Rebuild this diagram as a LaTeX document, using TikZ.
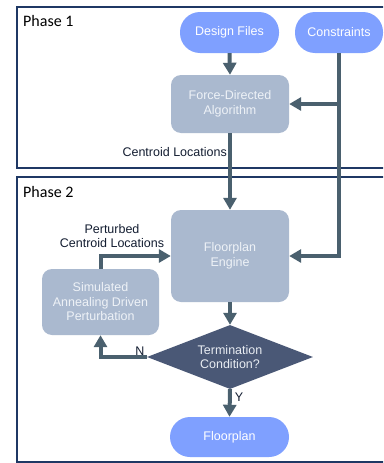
\documentclass[tikz,border=0pt]{standalone}
\usepackage{fontspec}
\setmainfont{Liberation Sans}
\newfontfamily\calibri{Carlito}
\usetikzlibrary{arrows.meta,shapes.geometric}
\definecolor{pillblue}{RGB}{127,160,255}
\definecolor{procgray}{RGB}{170,185,207}
\definecolor{decdark}{RGB}{74,88,118}
\definecolor{arrowc}{RGB}{74,96,110}
\definecolor{framec}{RGB}{31,56,100}
\definecolor{labc}{RGB}{20,30,50}
\begin{document}
\begin{tikzpicture}[x=1pt,y=-1pt,
  base/.style={font=\fontsize{12.5}{14.5}\selectfont, align=center, inner sep=0pt},
  pill/.style={base, fill=pillblue, text=white, rounded corners=20pt},
  proc/.style={base, fill=procgray, text={rgb,255:red,238;green,242;blue,247}, rounded corners=10pt},
  dec/.style={base, diamond, fill=decdark, text={rgb,255:red,232;green,236;blue,242}, aspect=2.6},
  conn/.style={draw=arrowc, line width=4pt, -{Triangle[width=13pt,length=12pt]}},
  plain/.style={draw=arrowc, line width=4pt},
  lab/.style={base, text=labc},
  phase/.style={draw=framec, line width=2pt},
  phaselab/.style={font=\calibri\fontsize{16}{18}\selectfont, inner sep=0pt, anchor=west}
]
\useasboundingbox (0,0) rectangle (383,463);
\clip (0,0) rectangle (383,463);
\fill[white] (0,0) rectangle (383,463);

% phase frames
\draw[phase] (17,7) rectangle (395,168);
\draw[phase] (17,177) rectangle (395,461.5);
\node[phaselab] (p1) at (23,21) {Phase 1};
\node[phaselab] (p2) at (23,192) {Phase 2};

% nodes
\node[pill, minimum width=99pt, minimum height=41pt] (design) at (229.5,32.5) {Design Files};
\node[pill, minimum width=88pt, minimum height=41pt] (cons) at (339,32.5) {Constraints};
\node[proc, minimum width=118pt, minimum height=58pt] (fda) at (230,104) {Force-Directed\\Algorithm};
\node[proc, minimum width=118pt, minimum height=92pt] (eng) at (230,256) {Floorplan\\Engine};
\node[proc, minimum width=117pt, minimum height=66pt] (sadp) at (100.5,302) {Simulated\\Annealing Driven\\Perturbation};
\node[dec, minimum width=166pt, minimum height=64pt] (term) at (230,357) {Termination\\Condition?};
\node[pill, minimum width=119pt, minimum height=40pt] (fp) at (229.5,437) {Floorplan};

% labels
\node[lab, anchor=east] (cl) at (227,152) {Centroid Locations};
\node[lab] (pcl) at (112,236) {Perturbed\\Centroid Locations};
\node[lab] (nlab) at (140,351) {N};
\node[lab] (ylab) at (239,397) {Y};

% connectors
\draw[conn] (design.south) -- (fda.north);
\coordinate (cbr) at (cons.south |- fda.east);
\draw[plain] (cons.south) -- (cbr);
\draw[conn] (cbr) -- (cons.south |- eng.east) -- (eng.east);
\draw[conn] (cbr) -- (fda.east);
\draw[conn] (fda.south) -- (eng.north);
\draw[conn] (eng.south) -- (term.north);
\draw[conn] (term.south) -- (fp.north);
\draw[conn] (term.west) -| (sadp.south);
\draw[conn] (sadp.north) |- (eng.west);
\end{tikzpicture}
\end{document}
